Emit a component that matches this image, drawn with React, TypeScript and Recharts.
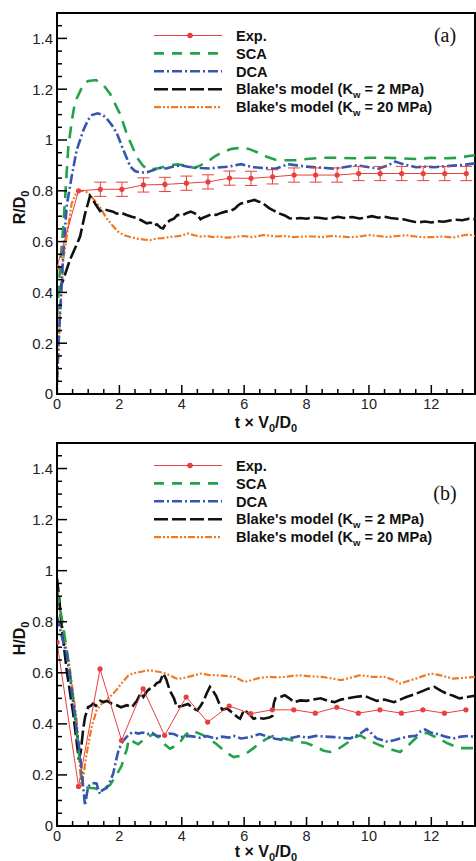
import React from "react";
import {
  LineChart,
  Line,
  XAxis,
  YAxis,
  ErrorBar,
  Legend,
  ReferenceArea,
} from "recharts";

type Pt = [number, number];
type ExpPt = [number, number, number | null];

// ---- panel (a): R/D0 ----
const EXP_A: ExpPt[] = [
  [0, 0.5, null], [0.69, 0.8, null], [1.39, 0.806, 0.028], [2.08, 0.806, 0.028],
  [2.77, 0.823, 0.028], [3.46, 0.825, 0.028], [4.15, 0.83, 0.028], [4.84, 0.835, 0.028],
  [5.53, 0.85, 0.028], [6.22, 0.849, 0.028], [6.91, 0.855, 0.028], [7.6, 0.862, 0.028],
  [8.29, 0.862, 0.028], [8.98, 0.862, 0.028], [9.67, 0.868, 0.028], [10.36, 0.868, 0.028],
  [11.05, 0.868, 0.028], [11.74, 0.868, 0.028], [12.43, 0.868, 0.028], [13.12, 0.868, 0.028],
];

const SCA_A: Pt[] = [
  [0, 0.3], [0.1, 0.5], [0.2, 0.66], [0.26, 0.77], [0.36, 0.97], [0.48, 1.08], [0.58, 1.15],
  [0.85, 1.22], [1.0, 1.232], [1.25, 1.236], [1.5, 1.215], [1.71, 1.18], [2.03, 1.1],
  [2.25, 1.02], [2.57, 0.93], [2.75, 0.9], [2.89, 0.885], [3.1, 0.886], [3.3, 0.89],
  [3.6, 0.9], [3.86, 0.904], [4.1, 0.9], [4.4, 0.89], [4.6, 0.9], [4.83, 0.915],
  [5.05, 0.935], [5.26, 0.95], [5.6, 0.965], [5.9, 0.97], [6.15, 0.965], [6.45, 0.95],
  [6.7, 0.935], [6.98, 0.923], [7.3, 0.92], [7.6, 0.92], [8.0, 0.925], [8.5, 0.93],
  [9.0, 0.93], [9.5, 0.928], [10.0, 0.93], [10.5, 0.93], [11.0, 0.928], [11.5, 0.925],
  [12.0, 0.93], [12.5, 0.928], [12.9, 0.93], [13.2, 0.937], [13.4, 0.94],
];

const DCA_A: Pt[] = [
  [0, 0.05], [0.05, 0.2], [0.1, 0.32], [0.2, 0.55], [0.31, 0.74], [0.47, 0.856],
  [0.63, 0.96], [0.85, 1.04], [1.0, 1.08], [1.12, 1.098], [1.3, 1.105], [1.45, 1.1],
  [1.59, 1.085], [1.75, 1.06], [1.92, 1.026], [2.13, 0.96], [2.35, 0.895], [2.5, 0.878],
  [2.57, 0.875], [2.75, 0.872], [2.89, 0.873], [3.1, 0.882], [3.3, 0.89], [3.5, 0.888],
  [3.7, 0.895], [4.0, 0.9], [4.2, 0.895], [4.4, 0.892], [4.6, 0.89], [4.9, 0.888],
  [5.26, 0.893], [5.5, 0.895], [5.7, 0.9], [5.9, 0.905], [6.1, 0.898], [6.3, 0.893],
  [6.6, 0.89], [7.0, 0.887], [7.2, 0.895], [7.4, 0.905], [7.7, 0.9], [8.0, 0.895],
  [8.3, 0.893], [8.6, 0.89], [8.9, 0.887], [9.2, 0.893], [9.6, 0.9], [9.9, 0.895],
  [10.3, 0.887], [10.6, 0.9], [10.85, 0.915], [11.1, 0.905], [11.5, 0.893], [11.8, 0.895],
  [12.1, 0.893], [12.5, 0.897], [12.8, 0.9], [13.1, 0.903], [13.4, 0.908],
];

const BLAKE2_A: Pt[] = [
  [0.05, 0.4], [0.2, 0.45], [0.42, 0.53], [0.6, 0.58], [0.74, 0.62], [0.9, 0.71],
  [1.06, 0.78], [1.15, 0.765], [1.22, 0.75], [1.3, 0.735], [1.38, 0.72], [1.5, 0.728],
  [1.65, 0.722], [1.8, 0.718], [1.91, 0.71], [2.05, 0.714], [2.23, 0.705], [2.4, 0.698],
  [2.56, 0.692], [2.7, 0.684], [2.88, 0.672], [3.0, 0.675], [3.1, 0.663], [3.2, 0.668],
  [3.32, 0.655], [3.4, 0.652], [3.5, 0.672], [3.63, 0.684], [3.75, 0.69], [3.86, 0.705],
  [4.0, 0.702], [4.15, 0.712], [4.29, 0.718], [4.4, 0.712], [4.5, 0.705], [4.6, 0.688],
  [4.7, 0.695], [4.8, 0.7], [4.95, 0.708], [5.1, 0.705], [5.26, 0.713], [5.4, 0.718],
  [5.55, 0.72], [5.7, 0.73], [5.8, 0.742], [5.9, 0.75], [6.05, 0.755], [6.2, 0.76],
  [6.33, 0.764], [6.45, 0.758], [6.55, 0.755], [6.66, 0.745], [6.8, 0.732], [6.98, 0.72],
  [7.1, 0.712], [7.3, 0.703], [7.45, 0.692], [7.6, 0.69], [7.8, 0.693], [8.0, 0.69],
  [8.2, 0.695], [8.4, 0.694], [8.6, 0.69], [8.8, 0.692], [9.0, 0.698], [9.2, 0.693],
  [9.46, 0.697], [9.7, 0.691], [9.9, 0.695], [10.1, 0.7], [10.3, 0.694], [10.5, 0.698],
  [10.7, 0.693], [10.9, 0.69], [11.1, 0.688], [11.3, 0.682], [11.45, 0.678], [11.6, 0.676],
  [11.8, 0.679], [12.0, 0.675], [12.2, 0.68], [12.4, 0.678], [12.6, 0.683], [12.8, 0.686],
  [13.0, 0.684], [13.2, 0.69], [13.4, 0.688],
];

const BLAKE20_A: Pt[] = [
  [0, 0.0], [0.03, 0.1], [0.06, 0.2], [0.1, 0.32], [0.2, 0.53], [0.36, 0.66], [0.47, 0.75],
  [0.63, 0.795], [0.8, 0.8], [0.95, 0.795], [1.12, 0.775], [1.25, 0.755], [1.38, 0.735],
  [1.5, 0.71], [1.6, 0.69], [1.8, 0.66], [1.95, 0.64], [2.13, 0.626], [2.35, 0.618],
  [2.56, 0.612], [2.8, 0.608], [2.99, 0.606], [3.2, 0.612], [3.4, 0.614], [3.6, 0.618],
  [3.8, 0.62], [4.0, 0.624], [4.2, 0.632], [4.4, 0.625], [4.6, 0.62], [4.8, 0.622],
  [5.0, 0.618], [5.2, 0.62], [5.4, 0.616], [5.6, 0.617], [5.8, 0.62], [6.0, 0.622],
  [6.2, 0.618], [6.4, 0.62], [6.6, 0.626], [6.8, 0.624], [7.0, 0.62], [7.3, 0.622],
  [7.6, 0.618], [7.9, 0.62], [8.2, 0.62], [8.5, 0.618], [8.8, 0.622], [9.1, 0.62],
  [9.4, 0.617], [9.7, 0.62], [10.0, 0.626], [10.3, 0.622], [10.6, 0.618], [10.9, 0.622],
  [11.2, 0.625], [11.5, 0.62], [11.8, 0.617], [12.1, 0.618], [12.4, 0.62], [12.7, 0.616],
  [13.0, 0.624], [13.2, 0.628], [13.4, 0.622],
];

// ---- panel (b): H/D0 ----
const EXP_B: ExpPt[] = [
  [0, 0.72, null], [0.69, 0.155, null], [1.38, 0.615, null], [2.07, 0.335, null],
  [2.76, 0.537, null], [3.45, 0.355, null], [4.14, 0.505, null], [4.83, 0.407, null],
  [5.52, 0.47, null], [6.21, 0.44, null], [6.9, 0.455, null], [7.59, 0.455, null],
  [8.28, 0.442, null], [8.97, 0.465, null], [9.66, 0.442, null], [10.35, 0.455, null],
  [11.04, 0.442, null], [11.73, 0.455, null], [12.42, 0.442, null], [13.11, 0.455, null],
];

const SCA_B: Pt[] = [
  [0, 0.92], [0.1, 0.85], [0.2, 0.78], [0.36, 0.65], [0.47, 0.545], [0.58, 0.44],
  [0.68, 0.31], [0.79, 0.19], [0.85, 0.155], [1.0, 0.15], [1.2, 0.148], [1.4, 0.14],
  [1.55, 0.15], [1.7, 0.16], [1.85, 0.19], [2.0, 0.22], [2.07, 0.235], [2.15, 0.27],
  [2.24, 0.3], [2.3, 0.34], [2.45, 0.33], [2.6, 0.32], [2.8, 0.34], [3.09, 0.36],
  [3.3, 0.345], [3.45, 0.32], [3.62, 0.303], [3.9, 0.32], [4.1, 0.355], [4.27, 0.372],
  [4.5, 0.365], [4.7, 0.355], [4.9, 0.34], [5.12, 0.32], [5.4, 0.29], [5.66, 0.27],
  [5.9, 0.275], [6.08, 0.285], [6.3, 0.305], [6.5, 0.325], [6.7, 0.34], [6.92, 0.352],
  [7.2, 0.345], [7.46, 0.338], [7.7, 0.33], [8.0, 0.325], [8.3, 0.31], [8.55, 0.295],
  [8.76, 0.29], [9.0, 0.3], [9.3, 0.325], [9.5, 0.345], [9.72, 0.355], [10.0, 0.335],
  [10.37, 0.315], [10.7, 0.3], [11.0, 0.29], [11.3, 0.32], [11.55, 0.35], [11.85, 0.365],
  [12.2, 0.345], [12.5, 0.325], [12.9, 0.305], [13.4, 0.305],
];

const DCA_B: Pt[] = [
  [0, 0.82], [0.1, 0.77], [0.2, 0.72], [0.31, 0.675], [0.42, 0.58], [0.52, 0.48],
  [0.63, 0.38], [0.74, 0.28], [0.84, 0.153], [0.9, 0.08], [0.95, 0.12], [1.0, 0.155],
  [1.1, 0.165], [1.2, 0.168], [1.27, 0.166], [1.33, 0.14], [1.38, 0.125], [1.45, 0.14],
  [1.6, 0.15], [1.7, 0.175], [1.8, 0.205], [1.9, 0.26], [1.97, 0.296], [2.1, 0.33],
  [2.24, 0.35], [2.35, 0.362], [2.45, 0.368], [2.6, 0.362], [2.75, 0.366], [2.9, 0.36],
  [3.05, 0.365], [3.2, 0.352], [3.41, 0.353], [3.6, 0.362], [3.75, 0.36], [3.95, 0.348],
  [4.2, 0.353], [4.4, 0.35], [4.6, 0.345], [4.8, 0.352], [5.1, 0.343], [5.3, 0.35],
  [5.5, 0.346], [5.66, 0.353], [5.9, 0.343], [6.2, 0.348], [6.35, 0.355], [6.5, 0.36],
  [6.75, 0.35], [7.0, 0.342], [7.25, 0.337], [7.5, 0.345], [7.8, 0.353], [8.0, 0.345],
  [8.3, 0.353], [8.6, 0.35], [8.9, 0.348], [9.15, 0.345], [9.4, 0.343], [9.7, 0.36],
  [9.93, 0.38], [10.1, 0.36], [10.25, 0.343], [10.6, 0.33], [10.8, 0.336], [11.0, 0.343],
  [11.25, 0.35], [11.5, 0.353], [11.65, 0.37], [11.8, 0.378], [12.0, 0.365], [12.2, 0.36],
  [12.45, 0.35], [12.7, 0.343], [12.95, 0.35], [13.2, 0.353], [13.4, 0.348],
];

const BLAKE2_B: Pt[] = [
  [0, 0.97], [0.08, 0.88], [0.15, 0.78], [0.31, 0.61], [0.52, 0.44], [0.62, 0.34],
  [0.7, 0.26], [0.76, 0.29], [0.84, 0.38], [0.9, 0.427], [1.0, 0.466], [1.08, 0.47],
  [1.16, 0.48], [1.25, 0.47], [1.39, 0.49], [1.5, 0.485], [1.6, 0.49], [1.75, 0.48],
  [1.92, 0.473], [2.05, 0.465], [2.24, 0.473], [2.4, 0.465], [2.56, 0.49], [2.68, 0.52],
  [2.77, 0.505], [2.9, 0.53], [2.98, 0.538], [3.1, 0.545], [3.2, 0.56], [3.3, 0.565],
  [3.41, 0.597], [3.5, 0.575], [3.62, 0.53], [3.75, 0.5], [3.84, 0.466], [4.0, 0.47],
  [4.2, 0.478], [4.35, 0.462], [4.5, 0.453], [4.6, 0.47], [4.7, 0.49], [4.8, 0.52],
  [4.9, 0.545], [5.0, 0.53], [5.1, 0.51], [5.2, 0.48], [5.3, 0.455], [5.45, 0.46],
  [5.66, 0.44], [5.8, 0.425], [5.87, 0.42], [6.0, 0.455], [6.15, 0.44], [6.3, 0.42],
  [6.45, 0.425], [6.62, 0.42], [6.8, 0.425], [6.9, 0.43], [6.95, 0.48], [7.0, 0.5],
  [7.15, 0.505], [7.3, 0.512], [7.45, 0.5], [7.6, 0.485], [7.8, 0.492], [8.0, 0.49],
  [8.2, 0.495], [8.45, 0.5], [8.7, 0.49], [8.9, 0.485], [9.1, 0.495], [9.3, 0.5],
  [9.55, 0.505], [9.85, 0.51], [10.05, 0.5], [10.25, 0.49], [10.5, 0.495], [10.8, 0.485],
  [11.0, 0.495], [11.2, 0.505], [11.45, 0.515], [11.75, 0.53], [11.9, 0.538], [12.1, 0.545],
  [12.3, 0.53], [12.5, 0.518], [12.7, 0.51], [12.9, 0.5], [13.15, 0.505], [13.4, 0.51],
];

const BLAKE20_B: Pt[] = [
  [0, 0.95], [0.1, 0.84], [0.2, 0.766], [0.42, 0.61], [0.63, 0.414], [0.72, 0.26],
  [0.78, 0.155], [0.85, 0.2], [0.95, 0.283], [1.11, 0.388], [1.27, 0.453], [1.4, 0.475],
  [1.54, 0.49], [1.68, 0.505], [1.8, 0.518], [1.92, 0.535], [2.02, 0.551], [2.15, 0.57],
  [2.29, 0.59], [2.45, 0.598], [2.66, 0.603], [2.82, 0.607], [2.98, 0.61], [3.15, 0.606],
  [3.3, 0.603], [3.45, 0.598], [3.62, 0.59], [3.84, 0.577], [4.0, 0.578], [4.2, 0.584],
  [4.4, 0.59], [4.6, 0.597], [4.85, 0.592], [5.15, 0.59], [5.4, 0.588], [5.7, 0.584],
  [5.85, 0.575], [6.0, 0.564], [6.2, 0.57], [6.5, 0.58], [6.8, 0.584], [7.05, 0.582],
  [7.3, 0.584], [7.55, 0.588], [7.8, 0.59], [8.1, 0.586], [8.5, 0.584], [8.8, 0.578],
  [9.1, 0.571], [9.4, 0.58], [9.7, 0.59], [9.9, 0.588], [10.1, 0.584], [10.5, 0.584],
  [10.8, 0.572], [11.0, 0.558], [11.2, 0.566], [11.5, 0.577], [11.75, 0.588], [12.0, 0.597],
  [12.3, 0.59], [12.7, 0.577], [13.0, 0.58], [13.4, 0.584],
];

const X_TICKS = [
  0, 0.5, 1, 1.5, 2, 2.5, 3, 3.5, 4, 4.5, 5, 5.5, 6, 6.5, 7, 7.5, 8, 8.5, 9, 9.5, 10,
  10.5, 11, 11.5, 12, 12.5, 13,
];
const Y_TICKS = [
  0, 0.05, 0.1, 0.15, 0.2, 0.25, 0.3, 0.35, 0.4, 0.45, 0.5, 0.55, 0.6, 0.65, 0.7, 0.75,
  0.8, 0.85, 0.9, 0.95, 1, 1.05, 1.1, 1.15, 1.2, 1.25, 1.3, 1.35, 1.4, 1.45,
];
const X_MAX = 13.4;
const Y_MAX = 1.5;

const RED = "#e8403f";
const GREEN = "#22a34a";
const BLUE = "#3456b0";
const BLACK = "#111";
const ORANGE = "#f07a22";

const FONT = "'Liberation Sans', Arial, sans-serif";

const toRows = (pts: Pt[]) => pts.map(([t, v]) => ({ t, v }));
const toExpRows = (pts: ExpPt[]) => pts.map(([t, v, err]) => ({ t, v, err }));

const LEGEND = [
  { key: "exp", pre: "Exp.", sub: "", post: "", color: RED, width: 1, dash: undefined },
  { key: "sca", pre: "SCA", sub: "", post: "", color: GREEN, width: 2.6, dash: "10 8" },
  { key: "dca", pre: "DCA", sub: "", post: "", color: BLUE, width: 2.6, dash: "10 3 2 3" },
  { key: "b2", pre: "Blake's model (K", sub: "w", post: " = 2 MPa)", color: BLACK, width: 2.6, dash: "14 4" },
  { key: "b20", pre: "Blake's model (K", sub: "w", post: " = 20 MPa)", color: ORANGE, width: 2.2, dash: "7 2 2 2 2 2" },
];

const isMajorX = (v: number) => Math.abs(v / 2 - Math.round(v / 2)) < 1e-6;
const isMajorY = (v: number) => Math.abs(v * 5 - Math.round(v * 5)) < 1e-6;

const XTick = ({ x, y, payload }: any) => {
  const v = payload.value;
  const major = isMajorX(v);
  return (
    <g>
      <line x1={x} x2={x} y1={y} y2={y - (major ? 9 : 5)} stroke="#000" strokeWidth={1.5} />
      {major && (
        <text x={x} y={y + 15} textAnchor="middle" fontFamily={FONT} fontSize={14.5} fill="#222">
          {v}
        </text>
      )}
    </g>
  );
};

const YTick = ({ x, y, payload }: any) => {
  const v = payload.value;
  const major = isMajorY(v);
  const ax = x + 4;
  return (
    <g>
      <line x1={ax} x2={ax + (major ? 10 : 5)} y1={y} y2={y} stroke="#000" strokeWidth={1.5} />
      {major && (
        <text x={x} y={y} dy="0.36em" textAnchor="end" fontFamily={FONT} fontSize={15} fill="#222">
          {String(Math.round(v * 10) / 10)}
        </text>
      )}
    </g>
  );
};

const LegendBox = ({ tag, tagY }: { tag: string; tagY: number }) => (
  <svg width={476} height={125} style={{ display: "block" }}>
    {LEGEND.map((s, i) => {
      const y = 35.5 + i * 17.9;
      return (
        <g key={s.key}>
          <line x1={154} x2={222} y1={y} y2={y} stroke={s.color} strokeWidth={s.width} strokeDasharray={s.dash} />
          {s.key === "exp" && <circle cx={190} cy={y} r={2.8} fill={RED} />}
          <text x={236} y={y} dy="0.36em" fontFamily={FONT} fontWeight="bold" fontSize={14.6} fill="#111">
            {s.pre}
            {s.sub && (
              <tspan fontSize={9.5} dy={4}>
                {s.sub}
              </tspan>
            )}
            {s.sub && <tspan dy={-4}>{s.post}</tspan>}
          </text>
        </g>
      );
    })}
    <text x={445} y={tagY} dy="0.35em" textAnchor="middle" fontFamily="'Liberation Serif', serif" fontSize={20} fill="#111">
      {tag}
    </text>
  </svg>
);

const XTitle = ({ offset }: { offset: number }) => (props: any) => {
  const vb = props.viewBox;
  const cx = vb.x + vb.width / 2;
  const by = vb.y + offset;
  return (
    <text x={cx} y={by} textAnchor="middle" fontFamily={FONT} fontWeight="bold" fontSize={16} fill="#111">
      t × V
      <tspan fontSize={11} dy={3.5}>0</tspan>
      <tspan dy={-3.5}>/D</tspan>
      <tspan fontSize={11} dy={3.5}>0</tspan>
    </text>
  );
};

const YTitle = ({ letter }: { letter: string }) => (props: any) => {
  const vb = props.viewBox;
  const cx = 25;
  const cy = vb.y + vb.height / 2 + 4;
  return (
    <text
      x={cx}
      y={cy}
      transform={`rotate(-90 ${cx} ${cy})`}
      textAnchor="middle"
      fontFamily={FONT}
      fontWeight="bold"
      fontSize={16}
      fill="#111"
    >
      {letter}/D
      <tspan fontSize={11} dy={4}>0</tspan>
    </text>
  );
};

interface PanelProps {
  height: number;
  xAxisHeight: number;
  titleOffset: number;
  tag: string;
  tagY: number;
  letter: string;
  exp: ExpPt[];
  sca: Pt[];
  dca: Pt[];
  b2: Pt[];
  b20: Pt[];
  errorBars: boolean;
}

const Panel = ({ height, xAxisHeight, titleOffset, tag, tagY, letter, exp, sca, dca, b2, b20, errorBars }: PanelProps) => (
  <LineChart width={476} height={height} margin={{ top: 13, right: 1, bottom: 0, left: 0 }}>
    <ReferenceArea x1={0} x2={X_MAX} y1={0} y2={Y_MAX} fill="none" stroke="#000" strokeWidth={2} />
    <XAxis
      type="number"
      dataKey="t"
      domain={[0, X_MAX]}
      ticks={X_TICKS}
      interval={0}
      allowDataOverflow
      tickSize={0}
      tickMargin={0}
      height={xAxisHeight}
      tick={(p: any) => <XTick {...p} />}
      axisLine={{ stroke: "#000", strokeWidth: 2 }}
      label={XTitle({ offset: titleOffset })}
    />
    <YAxis
      type="number"
      domain={[0, Y_MAX]}
      ticks={Y_TICKS}
      interval={0}
      allowDataOverflow
      width={57}
      tickSize={0}
      tickMargin={4}
      tick={(p: any) => <YTick {...p} />}
      axisLine={{ stroke: "#000", strokeWidth: 2 }}
      label={YTitle({ letter })}
    />
    <Line data={toRows(b20)} dataKey="v" stroke={ORANGE} strokeWidth={2.2} strokeDasharray="7 2 2 2 2 2" dot={false} isAnimationActive={false} />
    <Line data={toRows(b2)} dataKey="v" stroke={BLACK} strokeWidth={2.6} strokeDasharray="14 4" dot={false} isAnimationActive={false} />
    <Line data={toRows(sca)} dataKey="v" stroke={GREEN} strokeWidth={2.6} strokeDasharray="12 8" dot={false} isAnimationActive={false} />
    <Line data={toRows(dca)} dataKey="v" stroke={BLUE} strokeWidth={2.6} strokeDasharray="10 3 2 3" dot={false} isAnimationActive={false} />
    <Line
      data={toExpRows(exp)}
      dataKey="v"
      stroke={RED}
      strokeWidth={1}
      dot={{ r: 2.6, fill: RED, stroke: RED, strokeWidth: 0 }}
      isAnimationActive={false}
    >
      {errorBars && <ErrorBar dataKey="err" width={6} stroke={RED} strokeWidth={1} direction="y" />}
    </Line>
    <Legend
      layout="horizontal"
      verticalAlign="middle"
      align="center"
      wrapperStyle={{ position: "absolute", left: 0, top: 0, width: 476, height: 125, pointerEvents: "none" }}
      content={() => <LegendBox tag={tag} tagY={tagY} />}
    />
  </LineChart>
);

export default function App() {
  return (
    <div style={{ position: "absolute", left: 0, top: 0, width: 476, height: 861, background: "#fff", overflow: "hidden" }}>
      <div style={{ position: "absolute", left: 0, top: 430 }}>
        <Panel
          height={431}
          xAxisHeight={35}
          titleOffset={31}
          tag="(b)"
          tagY={63}
          letter="H"
          exp={EXP_B}
          sca={SCA_B}
          dca={DCA_B}
          b2={BLAKE2_B}
          b20={BLAKE20_B}
          errorBars={false}
        />
      </div>
      <div style={{ position: "absolute", left: 0, top: 0 }}>
        <Panel
          height={442}
          xAxisHeight={48}
          titleOffset={34}
          tag="(a)"
          tagY={35}
          letter="R"
          exp={EXP_A}
          sca={SCA_A}
          dca={DCA_A}
          b2={BLAKE2_A}
          b20={BLAKE20_A}
          errorBars
        />
      </div>
    </div>
  );
}
